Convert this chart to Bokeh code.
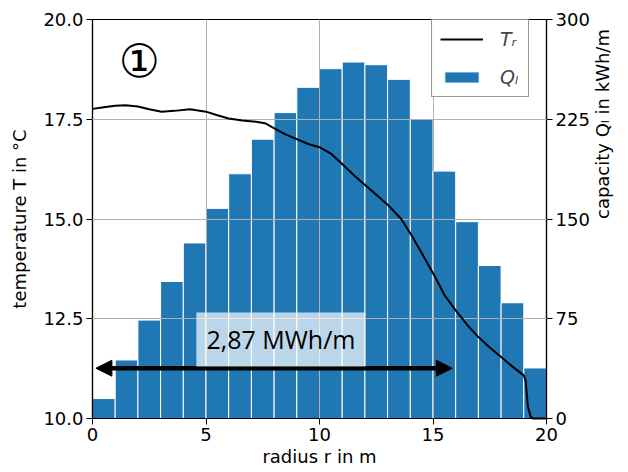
import math
import numpy as np
from bokeh.plotting import figure
from bokeh.models import (Range1d, LinearAxis, FixedTicker, PrintfTickFormatter,
                          Legend, LegendItem, Arrow, NormalHead, Label)
from bokeh.embed import file_html
from bokeh.resources import INLINE

# ---- data ----
bin_left = [0, 1, 2, 3, 4, 5, 6, 7, 8, 9, 10, 11, 12, 13, 14, 15, 16, 17, 18, 19]
bin_right = [1, 2, 3, 4, 5, 6, 7, 8, 9, 10, 11, 12, 13, 14, 15, 16, 17, 18, 19, 20]
Q_l = [15, 44, 74, 103, 132, 158, 184, 210, 230, 249, 263, 268, 266, 255, 225, 186, 148, 115, 87, 38]

r_T = [0, 0.5, 1.0, 1.45, 2.0, 2.5, 3.05, 3.6, 4.3, 5.0, 5.5, 6.0, 6.6, 7.2, 7.6, 8.05, 8.5,
       9.0, 9.5, 10.0, 10.5, 11.0, 11.6, 12.3, 13.0, 13.6, 14.1, 14.6, 15.1, 15.5, 16.0, 16.5,
       17.0, 17.5, 18.0, 18.5, 19.0, 19.08, 19.18, 19.3, 19.4, 20.0]
T_r = [17.76, 17.8, 17.84, 17.85, 17.82, 17.75, 17.69, 17.71, 17.75, 17.69, 17.6, 17.52, 17.47,
       17.44, 17.4, 17.26, 17.12, 17.0, 16.88, 16.8, 16.64, 16.38, 16.05, 15.71, 15.36, 15.0,
       14.55, 14.05, 13.54, 13.1, 12.71, 12.35, 12.04, 11.78, 11.54, 11.3, 11.08, 10.95, 10.3,
       10.05, 10.0, 10.0]

x_ticks = [0, 5, 10, 15, 20]
T_ticks = [10.0, 12.5, 15.0, 17.5, 20.0]
Q_ticks = [0, 75, 150, 225, 300]

arrow_r = [0.15, 15.85]
arrow_T = 11.26
total_label = "2,87 MWh/m"

FONT = "DejaVu Sans"
FS = "18px"

p = figure(width=628, height=472, x_range=Range1d(0, 20), y_range=Range1d(10, 20),
           output_backend="svg", toolbar_location=None,
           min_border_left=92, min_border_right=82, min_border_top=19, min_border_bottom=54)
p.extra_y_ranges = {"q": Range1d(0, 300)}
p.xaxis.visible = False
p.yaxis.visible = False

p.outline_line_color = "black"
p.outline_line_width = 1.2
p.background_fill_color = "white"
p.border_fill_color = "white"

# grid above bars
for g in (p.xgrid, p.ygrid):
    g.grid_line_color = "#b0b0b0"
    g.grid_line_width = 1
    g.level = "guide"
p.xgrid.ticker = FixedTicker(ticks=x_ticks)
p.ygrid.ticker = FixedTicker(ticks=T_ticks)

bars = p.quad(left=bin_left, right=bin_right, bottom=0, top=Q_l, y_range_name="q",
              fill_color="#1f77b4", line_color="white", line_width=1)
line = p.line(r_T, T_r, line_color="black", line_width=2)
line.level = "overlay"

def style_axis(ax):
    ax.axis_line_color = "black"
    ax.axis_line_width = 1.2
    ax.major_tick_line_color = "black"
    ax.major_tick_out = 6
    ax.major_tick_in = 0
    ax.minor_tick_line_color = None
    ax.major_label_text_font = FONT
    ax.major_label_text_font_size = FS
    ax.major_label_text_color = "black"
    ax.axis_label_text_font = FONT
    ax.axis_label_text_font_size = FS
    ax.axis_label_text_font_style = "normal"
    ax.axis_label_text_color = "black"
    ax.major_label_standoff = 3

xa = LinearAxis(ticker=FixedTicker(ticks=x_ticks), axis_label="radius r in m")
style_axis(xa)
xa.axis_label_standoff = 2
p.add_layout(xa, "below")

ya = LinearAxis(ticker=FixedTicker(ticks=T_ticks), formatter=PrintfTickFormatter(format="%.1f"),
                axis_label="temperature T in °C")
style_axis(ya)
ya.axis_label_standoff = 10
p.add_layout(ya, "left")

qa = LinearAxis(y_range_name="q", ticker=FixedTicker(ticks=Q_ticks),
                axis_label="capacity Qₗ in kWh/m")
style_axis(qa)
qa.axis_label_standoff = 10
qa.axis_label_orientation = -3 * math.pi / 2
p.add_layout(qa, "right")

# annotation: arrow and total
arr = Arrow(x_start=arrow_r[0], x_end=arrow_r[1], y_start=arrow_T, y_end=arrow_T,
            line_color="black", line_width=4.5,
            start=NormalHead(size=16, fill_color="black", line_color="black"),
            end=NormalHead(size=16, fill_color="black", line_color="black"))
p.add_layout(arr)

lab = Label(x=8.3, y=11.98, text=total_label, text_align="center", text_baseline="middle",
            text_font="Open Sans", text_font_size="25px", text_color="black",
            background_fill_color="white", background_fill_alpha=0.7, padding=10)
p.add_layout(lab)

circ = Label(x=2.07, y=18.95, text="①", text_align="center", text_baseline="middle",
             text_font="DejaVu Sans", text_font_size="46px", text_color="black")
p.add_layout(circ)

legend = Legend(items=[LegendItem(label="Tᵣ", renderers=[line]),
                       LegendItem(label="Qₗ", renderers=[bars])],
                location=(339, 321), orientation="vertical",
                label_text_font=FONT, label_text_font_size="19px", label_text_font_style="italic",
                glyph_width=43, glyph_height=14, label_height=20, label_standoff=17,
                spacing=16, padding=8, margin=0,
                border_line_color="#333333", border_line_width=1,
                background_fill_color="white", background_fill_alpha=0.85)
p.add_layout(legend)

open("out.html", "w").write(file_html(p, INLINE))
